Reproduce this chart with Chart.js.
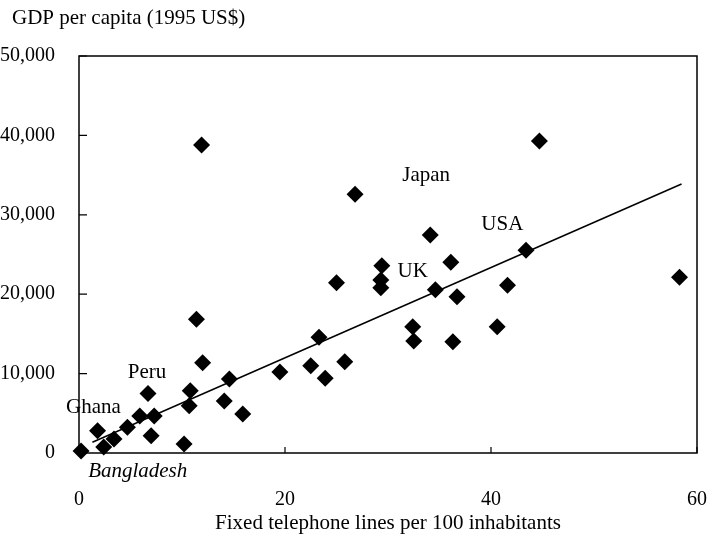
<!DOCTYPE html>
<html>
<head>
<meta charset="utf-8">
<script src="https://cdn.jsdelivr.net/npm/chart.js@4.4.1/dist/chart.umd.min.js"></script>
<style>
  html, body { margin: 0; padding: 0; background: #fff; }
</style>
</head>
<body>
<canvas id="telChart" width="718" height="542"></canvas>
<script>
// Fixed telephone lines per 100 inhabitants vs GDP per capita (1995 US$)
var phoneLines = [0.2, 1.8, 2.4, 3.4, 4.7, 5.9, 6.7, 7.0, 7.3, 10.2, 10.7, 10.8, 12.0, 14.1, 14.6, 15.9,
                  11.9, 11.4, 19.5, 22.5, 23.3, 23.9, 25.0, 25.8, 26.8, 29.3, 29.3, 29.4, 32.4, 32.5,
                  34.1, 34.6, 36.1, 36.3, 36.7, 40.6, 41.6, 43.4, 44.7, 58.3];
var gdpPerCapita = [250, 2800, 760, 1760, 3230, 4660, 7500, 2180, 4660, 1130, 5960, 7850, 11370, 6550, 9320, 4910,
                    38790, 16840, 10200, 11000, 14570, 9410, 21450, 11500, 32580, 20820, 21790, 23590, 15910, 14110,
                    27460, 20570, 24020, 14020, 19690, 15910, 21120, 25530, 39300, 22130];

// fitted line, read from the two ends
var trendX = [1.3, 58.5];
var trendY = [1350, 33880];

var xTicks = [0, 20, 40, 60];
var yTicks = [0, 10000, 20000, 30000, 40000, 50000];

// country labels, placed in data units
var countryNames = ['Japan', 'USA', 'UK', 'Peru', 'Ghana', 'Bangladesh'];
var countryX = [33.7, 41.1, 32.4, 6.6, 1.4, 5.7];
var countryY = [34890, 28720, 22800, 10100, 5700, -2300];

var serif = "'Liberation Serif', 'Times New Roman', serif";

var points = phoneLines.map(function (x, i) { return { x: x, y: gdpPerCapita[i] }; });
var trend = trendX.map(function (x, i) { return { x: x, y: trendY[i] }; });

var frame = {
    id: 'frame',
    afterDraw: function (chart) {
        var c = chart.ctx, a = chart.chartArea;
        var xs = chart.scales.x, ys = chart.scales.y;
        c.save();
        c.strokeStyle = '#000';
        c.lineWidth = 1.5;
        c.strokeRect(a.left, a.top, a.right - a.left, a.bottom - a.top);
        c.lineWidth = 1.2;
        c.beginPath();
        yTicks.forEach(function (v) {
            var py = ys.getPixelForValue(v);
            c.moveTo(a.left, py); c.lineTo(a.left + 8, py);
        });
        xTicks.forEach(function (v) {
            var px = xs.getPixelForValue(v);
            c.moveTo(px, a.bottom); c.lineTo(px, a.bottom - 6);
        });
        c.stroke();

        c.fillStyle = '#000';
        c.textBaseline = 'middle';
        c.textAlign = 'center';
        countryNames.forEach(function (name, i) {
            c.font = (name === 'Bangladesh' ? 'italic ' : '') + '21px ' + serif;
            c.fillText(name, xs.getPixelForValue(countryX[i]), ys.getPixelForValue(countryY[i]));
        });

        c.font = '21px ' + serif;
        c.fillText('Fixed telephone lines per 100 inhabitants', (a.left + a.right) / 2, 523);
        c.textAlign = 'left';
        c.fillText('GDP per capita (1995 US$)', 12, 18);
        c.restore();
    }
};

new Chart(document.getElementById('telChart').getContext('2d'), {
    type: 'scatter',
    data: {
        datasets: [{
            data: points,
            pointStyle: 'rectRot',
            pointRadius: 8.5,
            pointHoverRadius: 8.5,
            backgroundColor: '#000',
            borderColor: '#000',
            borderWidth: 0,
            clip: false
        }, {
            data: trend,
            showLine: true,
            pointRadius: 0,
            borderColor: '#000',
            borderWidth: 1.5,
            fill: false
        }]
    },
    options: {
        responsive: false,
        animation: false,
        devicePixelRatio: 1,
        layout: { padding: { top: 56, right: 21, left: 0, bottom: 0 } },
        plugins: { legend: { display: false }, tooltip: { enabled: false } },
        scales: {
            x: {
                type: 'linear',
                min: 0, max: 60,
                afterFit: function (s) { s.height = 89; s.paddingLeft = 0; s.paddingRight = 0; },
                afterBuildTicks: function (s) { s.ticks = xTicks.map(function (v) { return { value: v }; }); },
                grid: { display: false },
                border: { display: false },
                ticks: { color: '#000', padding: 27, maxRotation: 0, font: { family: serif, size: 20 } }
            },
            y: {
                type: 'linear',
                min: 0, max: 50000,
                afterFit: function (s) { s.width = 79; s.paddingTop = 0; s.paddingBottom = 0; },
                afterBuildTicks: function (s) { s.ticks = yTicks.map(function (v) { return { value: v }; }); },
                grid: { display: false },
                border: { display: false },
                ticks: {
                    color: '#000', padding: 16, font: { family: serif, size: 20 },
                    callback: function (v) { return v.toLocaleString('en-US'); }
                }
            }
        }
    },
    plugins: [frame]
});
</script>
</body>
</html>
